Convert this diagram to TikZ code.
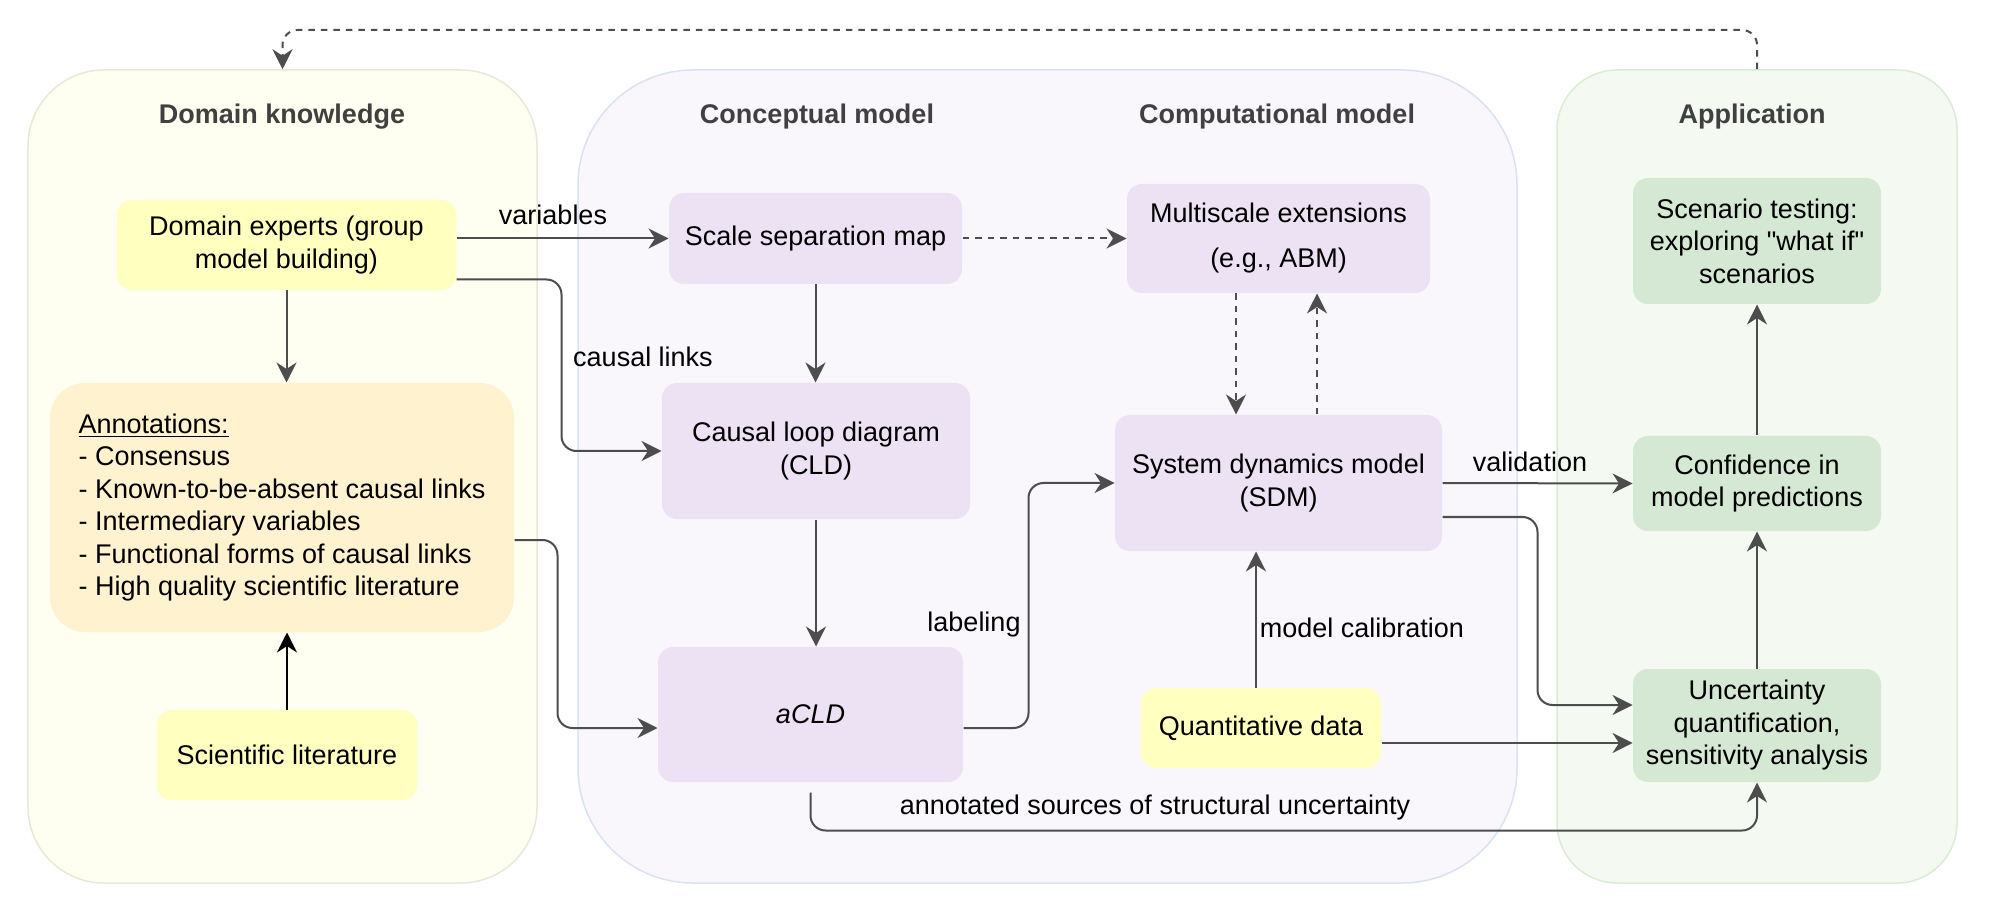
\documentclass[tikz,border=0pt]{standalone}
\usepackage{fontspec}
\setmainfont{Liberation Sans}[Ligatures=TeXOff]
\usetikzlibrary{arrows.meta}

\definecolor{arrgray}{HTML}{4D4D4D}
\definecolor{titlegray}{HTML}{404040}
\definecolor{domfill}{HTML}{FEFEF1}
\definecolor{domline}{HTML}{E8E8DA}
\definecolor{midfill}{HTML}{F9F7FC}
\definecolor{midline}{HTML}{D9E2F3}
\definecolor{appfill}{HTML}{F4F9F2}
\definecolor{appline}{HTML}{DCEBD5}
\definecolor{purplebox}{HTML}{EDE2F3}
\definecolor{yellowbox}{HTML}{FFFFC0}
\definecolor{orangebox}{HTML}{FFF2CF}
\definecolor{greenbox}{HTML}{D5E8D4}

\begin{document}
\begin{tikzpicture}[
		x=0.4pt,y=-0.4pt,
		every node/.style = {font=\fontsize{10.8pt}{13pt}\selectfont, align=center, inner sep=0pt},
		panel/.style = {draw, line width=0.6pt, minimum height=325.2pt},
		box/.style = {rounded corners=6pt, text=black},
		title/.style = {font=\fontsize{10.8pt}{13pt}\selectfont\bfseries, text=titlegray},
		arr/.style = {-{Stealth[length=8pt,width=8pt,inset=2.6pt]}, draw=arrgray, line width=0.8pt, rounded corners=6pt},
		dasharr/.style = {arr, dash pattern=on 2.6pt off 2.4pt}
	]
	\useasboundingbox (0,0) rectangle (1999,918);

	% panels
	\node (dom) [panel, fill=domfill, draw=domline, rounded corners=30.4pt, minimum width=203.6pt] at (282.5,476.5) {};
	\node (mid) [panel, fill=midfill, draw=midline, rounded corners=46pt, minimum width=375.6pt] at (1047.5,476.5) {};
	\node (app) [panel, fill=appfill, draw=appline, rounded corners=24pt, minimum width=160pt] at (1757,476.5) {};

	\node (domtitle) [title] at (282,117) {Domain knowledge};
	\node (contitle) [title] at (817,117) {Conceptual model};
	\node (comtitle) [title] at (1277,117) {Computational model};
	\node (apptitle) [title] at (1752,117) {Application};

	% boxes
	\node (de) [box, fill=yellowbox, minimum width=135.6pt, minimum height=36pt] at (286.5,245) {Domain experts (group\\model building)};
	\node (ann) [box, fill=orangebox, rounded corners=14pt, align=left, minimum width=185.6pt, minimum height=99.6pt] at (282,507.5) {\underline{Annotations:}\\- Consensus\\- Known-to-be-absent causal links\\- Intermediary variables\\- Functional forms of causal links\\- High quality scientific literature};
	\node (sl) [box, fill=yellowbox, minimum width=104pt, minimum height=36pt] at (287,755) {Scientific literature};
	\node (ssm) [box, fill=purplebox, minimum width=117.2pt, minimum height=36.4pt] at (815.5,238.5) {Scale separation map};
	\node (cld) [box, fill=purplebox, minimum width=123.2pt, minimum height=54.4pt] at (816,451) {Causal loop diagram\\(CLD)};
	\node (acld) [box, fill=purplebox, minimum width=122pt, minimum height=54pt] at (810.5,714.5) {\itshape aCLD};
	\node (ms) [box, fill=purplebox, minimum width=121.2pt, minimum height=43.6pt] at (1278.5,238.5) {Multiscale extensions\\[5pt](e.g., ABM)};
	\node (sdm) [box, fill=purplebox, minimum width=130.8pt, minimum height=54.4pt] at (1278.5,483) {System dynamics model\\(SDM)};
	\node (qd) [box, fill=yellowbox, minimum width=96pt, minimum height=32pt] at (1261,728) {Quantitative data};
	\node (sc) [box, fill=greenbox, minimum width=99.2pt, minimum height=50.4pt] at (1757,241) {Scenario testing:\\exploring "what if"\\scenarios};
	\node (conf) [box, fill=greenbox, minimum width=99.2pt, minimum height=38pt] at (1757,483.5) {Confidence in\\model predictions};
	\node (uq) [box, fill=greenbox, minimum width=99.2pt, minimum height=45.2pt] at (1757,725.5) {Uncertainty\\quantification,\\sensitivity analysis};

	% labels
	\node (varlbl) at (553,215) {variables};
	\node (cllbl) at (643,357) {causal links};
	\node (lablbl) at (974,625) {labeling};
	\node (callbl) at (1362,628) {model calibration};
	\node (vallbl) at (1530,462) {validation};
	\node (anlbl) at (1155,808) {annotated sources of structural uncertainty};

	\coordinate (fbtop) at (1000,30);

	% connectors
	\draw [dasharr] (app.north) |- (fbtop) -| (dom.north);
	\draw [arr] (de.south) -- (de.south |- ann.north);
	\draw [arr, draw=black] (sl.north) -- (sl.north |- ann.south);
	\draw [arr] (de.east |- ssm.west) -- (ssm.west);
	\draw [arr] ([yshift=4.4pt]de.south east) -| ([xshift=-40pt]cld.west) -- (cld.west);
	\draw [arr] ([yshift=-13pt]ann.east) -| ([xshift=-40pt,yshift=-5.4pt]acld.west) -- ([yshift=-5.4pt]acld.west);
	\draw [arr] (ssm.south) -- (ssm.south |- cld.north);
	\draw [arr] (cld.south) -- (cld.south |- acld.north);
	\draw [arr] ([yshift=-5.4pt]acld.east) -| ([xshift=-34.4pt]sdm.west) -- (sdm.west);
	\draw [dasharr] (ssm.east) -- (ms.west);
	\draw [dasharr] ([xshift=-17pt]ms.south) -- ([xshift=-17pt]sdm.north);
	\draw [dasharr] ([xshift=15.4pt]sdm.north) -- ([xshift=15.4pt]ms.south);
	\draw [arr] ([xshift=-2pt]qd.north) -- ([xshift=-2pt]qd.north |- sdm.south);
	\draw [arr] (sdm.east) -- (conf.west);
	\draw [arr] ([yshift=-13.6pt]sdm.east) -| ([xshift=-38pt,yshift=8.2pt]uq.west) -- ([yshift=8.2pt]uq.west);
	\draw [arr] ([yshift=-6pt]qd.east) -- ([yshift=-6pt]qd.east -| uq.west);
	\draw [arr] (conf.north) -- (sc.south);
	\draw [arr] (uq.north) -- (conf.south);
	\draw [arr] ([yshift=-4pt]acld.south) |- ([yshift=-19.2pt]uq.south) -- (uq.south);
\end{tikzpicture}
\end{document}
